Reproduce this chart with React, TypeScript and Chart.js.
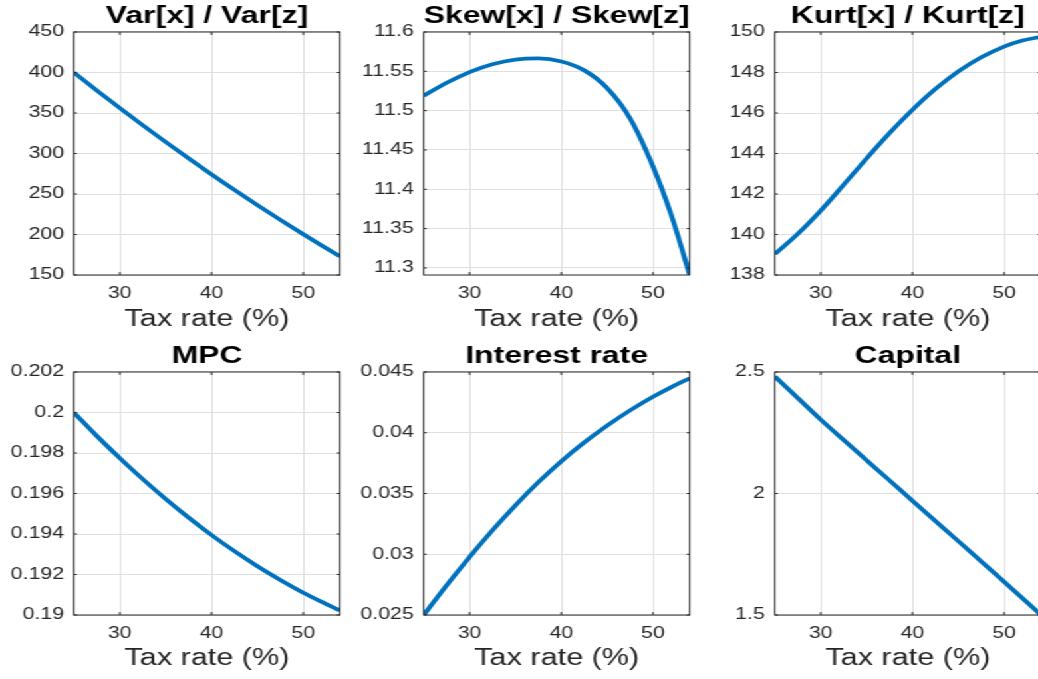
import React, { useEffect, useRef } from "react";
import { Chart, registerables } from "chart.js";

Chart.register(...registerables);

// ---------- data ----------
const taxRate = [25, 27.5, 30, 32.5, 35, 37.5, 40, 42.5, 45, 47.5, 50, 52, 54];
const varRatio = [400, 377.8, 356.15, 334.9, 314.2, 294.0, 274.25, 255.0, 236.3, 218.1, 200.35, 186.5, 173.0];
const skewRatio = [11.519, 11.5355, 11.549, 11.559, 11.565, 11.5665, 11.5625, 11.5512, 11.5287, 11.49, 11.4288, 11.3668, 11.291];
const kurtRatio = [139.03, 140.03, 141.18, 142.455, 143.755, 145.005, 146.155, 147.18, 148.055, 148.755, 149.28, 149.58, 149.76];
const mpc = [0.2, 0.19884, 0.19775, 0.19671, 0.19573, 0.19481, 0.19395, 0.19315, 0.19241, 0.19173, 0.1911, 0.19065, 0.19023];
const interestRate = [0.025, 0.02745, 0.02978, 0.03198, 0.03403, 0.03593, 0.03766, 0.03921, 0.04059, 0.04184, 0.04296, 0.04376, 0.04448];
const capital = [2.482, 2.393, 2.304, 2.22, 2.137, 2.054, 1.97, 1.887, 1.804, 1.72, 1.637, 1.569, 1.501];

const xTicks = [30, 40, 50];
const varTicks = [150, 200, 250, 300, 350, 400, 450];
const skewTicks = [11.3, 11.35, 11.4, 11.45, 11.5, 11.55, 11.6];
const kurtTicks = [138, 140, 142, 144, 146, 148, 150];
const mpcTicks = [0.19, 0.192, 0.194, 0.196, 0.198, 0.2, 0.202];
const interestTicks = [0.025, 0.03, 0.035, 0.04, 0.045];
const capitalTicks = [1.5, 2, 2.5];

const titles = ["Var[x] / Var[z]", "Skew[x] / Skew[z]", "Kurt[x] / Kurt[z]", "MPC", "Interest rate", "Capital"];
const xLabel = "Tax rate (%)";

// ---------- styling / layout ----------
const S = 1.33; // horizontal stretch of the reference figure
const BLUE = "#0072BD";
const GRID = "#dfdfdf";
const AXIS = "#262626";
const FONT = "'Liberation Sans', Arial, Helvetica, sans-serif";
const YW = 55.6; // y-axis width (unscaled units)
const PLOT_W = 200;
const CW = 259;
const PLOT_BOTTOM = 275;

Chart.defaults.font.family = FONT;

const panels = [
  { title: titles[0], values: varRatio, min: 150, max: 450, ticks: varTicks, col: 0, row: 0 },
  { title: titles[1], values: skewRatio, min: 11.291, max: 11.6, ticks: skewTicks, col: 1, row: 0 },
  { title: titles[2], values: kurtRatio, min: 138, max: 150, ticks: kurtTicks, col: 2, row: 0 },
  { title: titles[3], values: mpc, min: 0.19, max: 0.202, ticks: mpcTicks, col: 0, row: 1 },
  { title: titles[4], values: interestRate, min: 0.025, max: 0.045, ticks: interestTicks, col: 1, row: 1 },
  { title: titles[5], values: capital, min: 1.5, max: 2.5, ticks: capitalTicks, col: 2, row: 1 },
];

const colLeft = [0, 350 / S, 701 / S];
const rowTop = [0, 340];
const rowH = [340, 339];

const fmt = (v: number) => String(Number(Number(v).toPrecision(10)));

const boxPlugin = {
  id: "matlabBox",
  afterDraw(chart: any) {
    const { ctx, chartArea } = chart;
    const { left, top, right, bottom } = chartArea;
    ctx.save();
    ctx.strokeStyle = AXIS;
    ctx.lineWidth = 1;
    ctx.strokeRect(left, top, right - left, bottom - top);
    const line = (x1: number, y1: number, x2: number, y2: number) => {
      ctx.beginPath();
      ctx.moveTo(x1, y1);
      ctx.lineTo(x2, y2);
      ctx.stroke();
    };
    const xs = chart.scales.x;
    xs.ticks.forEach((t: any) => {
      const px = xs.getPixelForValue(t.value);
      line(px, bottom, px, bottom - 3);
      line(px, top, px, top + 3);
    });
    const ys = chart.scales.y;
    ys.ticks.forEach((t: any) => {
      const py = ys.getPixelForValue(t.value);
      line(left, py, left + 2.25, py);
      line(right, py, right - 2.25, py);
    });
    ctx.restore();
  },
};

function Panel({ p }: { p: any }) {
  const ref = useRef<HTMLCanvasElement>(null);
  const H = rowH[p.row];
  useEffect(() => {
    const chart = new Chart(ref.current as HTMLCanvasElement, {
      type: "line",
      data: {
        datasets: [
          {
            data: taxRate.map((x, i) => ({ x, y: p.values[i] })),
            borderColor: BLUE,
            borderWidth: 3.8,
            pointRadius: 0,
            fill: false,
            cubicInterpolationMode: "monotone",
          },
        ],
      },
      options: {
        animation: false,
        responsive: false,
        devicePixelRatio: 1,
        layout: { padding: { left: 0, top: 0, bottom: 0, right: CW - YW - PLOT_W } },
        plugins: {
          legend: { display: false },
          tooltip: { enabled: false },
          title: {
            display: true,
            fullSize: false,
            text: p.title,
            color: "#000",
            font: { size: 24, weight: "bold", family: FONT },
            padding: { top: 1.5, bottom: 1.7 },
          },
        },
        scales: {
          x: {
            type: "linear",
            min: 25,
            max: 54,
            afterBuildTicks: (s: any) => {
              s.ticks = xTicks.map((v) => ({ value: v }));
            },
            afterFit: (s: any) => {
              s.height = H - PLOT_BOTTOM;
            },
            grid: { color: GRID, drawTicks: false, lineWidth: 1 },
            border: { display: false },
            ticks: {
              color: AXIS,
              font: { size: 16, family: FONT },
              padding: 8.6,
              maxRotation: 0,
              autoSkip: false,
              callback: (v: any) => fmt(v),
            },
            title: {
              display: true,
              text: xLabel,
              color: AXIS,
              font: { size: 23, family: FONT },
              padding: { top: 0, bottom: 6.5 },
            },
          },
          y: {
            type: "linear",
            min: p.min,
            max: p.max,
            afterBuildTicks: (s: any) => {
              s.ticks = p.ticks.map((v: number) => ({ value: v }));
            },
            afterFit: (s: any) => {
              s.width = YW;
            },
            grid: { color: GRID, drawTicks: false, lineWidth: 1 },
            border: { display: false },
            ticks: {
              color: AXIS,
              font: { size: 16, family: FONT },
              padding: 7.5,
              autoSkip: false,
              callback: (v: any) => fmt(v),
            },
          },
        },
      } as any,
      plugins: [boxPlugin],
    });
    return () => chart.destroy();
  }, []);
  return (
    <canvas
      ref={ref}
      width={CW}
      height={H}
      style={{
        position: "absolute",
        left: colLeft[p.col],
        top: rowTop[p.row],
        width: CW,
        height: H,
        display: "block",
      }}
    />
  );
}

export default function App() {
  return (
    <div
      style={{
        position: "fixed",
        left: 0,
        top: 0,
        width: 1038,
        height: 679,
        overflow: "hidden",
        background: "#fff",
      }}
    >
      <div
        style={{
          position: "absolute",
          left: 0,
          top: 0,
          width: 1100 / S,
          height: 679,
          transform: `scaleX(${S})`,
          transformOrigin: "0 0",
        }}
      >
        {panels.map((p, i) => (
          <Panel key={i} p={p} />
        ))}
      </div>
    </div>
  );
}
